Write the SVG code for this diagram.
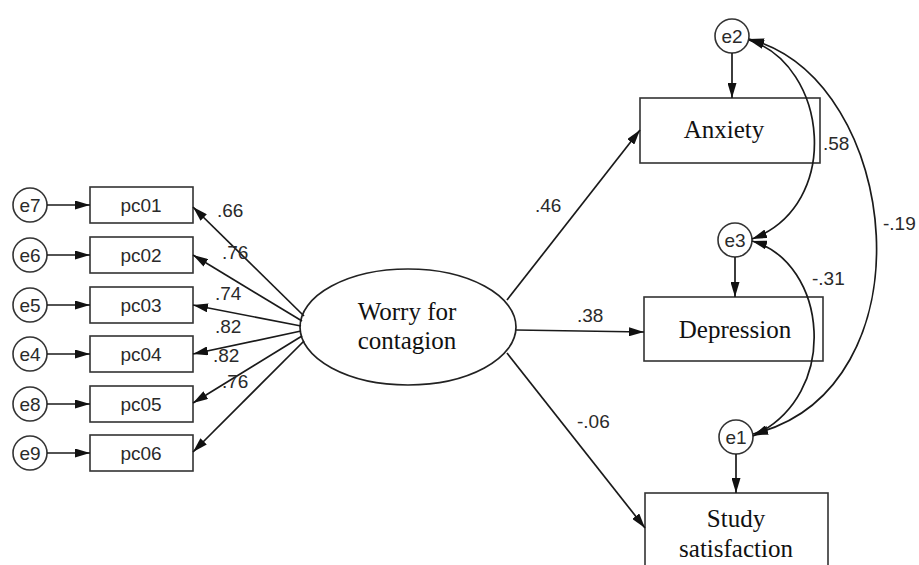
<svg xmlns="http://www.w3.org/2000/svg" width="919" height="565" viewBox="0 0 919 565">
<style>
.bg{fill:#fff}
.box{fill:none;stroke:#333;stroke-width:1.6}
.err{fill:#fff;stroke:#333;stroke-width:1.6}
.lat{fill:#fff;stroke:#222;stroke-width:1.7}
.c{fill:none;stroke:#1a1a1a;stroke-width:1.7}
.s{font-family:"Liberation Sans",Arial,sans-serif;font-size:19px;fill:#2a2a2a}
.n{font-family:"Liberation Serif","Times New Roman",serif;font-size:25px;fill:#111;text-anchor:middle}
.m{text-anchor:middle}
</style>
<defs>
<marker id="ah" viewBox="0 0 15 9" refX="15" refY="4.5" markerWidth="15" markerHeight="9" markerUnits="userSpaceOnUse" orient="auto-start-reverse">
<path d="M0,0 L15,4.5 L0,9 z" fill="#111"/>
</marker>
</defs>
<rect class="bg" x="0" y="0" width="919" height="565"/>

<g id="e7"><circle class="err" cx="30" cy="205" r="17"/><text class="s m" x="30" y="212">e7</text></g>
<g id="e6"><circle class="err" cx="30" cy="255" r="17"/><text class="s m" x="30" y="262">e6</text></g>
<g id="e5"><circle class="err" cx="30" cy="305" r="17"/><text class="s m" x="30" y="312">e5</text></g>
<g id="e4"><circle class="err" cx="30" cy="354" r="17"/><text class="s m" x="30" y="361">e4</text></g>
<g id="e8"><circle class="err" cx="30" cy="404" r="17"/><text class="s m" x="30" y="411">e8</text></g>
<g id="e9"><circle class="err" cx="30" cy="453" r="17"/><text class="s m" x="30" y="460">e9</text></g>

<g id="pc01"><rect class="box" x="90" y="187" width="103" height="36"/><text class="s m" x="141" y="212">pc01</text></g>
<g id="pc02"><rect class="box" x="90" y="237" width="103" height="36"/><text class="s m" x="141" y="262">pc02</text></g>
<g id="pc03"><rect class="box" x="90" y="287" width="103" height="36"/><text class="s m" x="141" y="312">pc03</text></g>
<g id="pc04"><rect class="box" x="90" y="336" width="103" height="36"/><text class="s m" x="141" y="361">pc04</text></g>
<g id="pc05"><rect class="box" x="90" y="386" width="103" height="36"/><text class="s m" x="141" y="411">pc05</text></g>
<g id="pc06"><rect class="box" x="90" y="435" width="103" height="36"/><text class="s m" x="141" y="460">pc06</text></g>

<g id="worry"><ellipse class="lat" cx="408" cy="327" rx="108" ry="58"/><text class="n" x="407" y="320">Worry for</text><text class="n" x="407" y="349">contagion</text></g>

<g id="e2"><circle class="err" cx="732" cy="36" r="17"/><text class="s m" x="732" y="43">e2</text></g>
<g id="anxiety"><rect class="box" x="640" y="98" width="180" height="65"/><text class="n" x="724" y="138">Anxiety</text></g>
<g id="e3"><circle class="err" cx="735" cy="240" r="17"/><text class="s m" x="735" y="247">e3</text></g>
<g id="depression"><rect class="box" x="644" y="297" width="179" height="64"/><text class="n" x="735" y="338">Depression</text></g>
<g id="e1"><circle class="err" cx="736" cy="437" r="17"/><text class="s m" x="736" y="444">e1</text></g>
<g id="study"><rect class="box" x="645" y="493" width="183" height="90"/><text class="n" x="736" y="527">Study</text><text class="n" x="736" y="557">satisfaction</text></g>

<g id="connectors">
<line class="c" x1="47" y1="205" x2="90" y2="205" marker-end="url(#ah)"/>
<line class="c" x1="47" y1="255" x2="90" y2="255" marker-end="url(#ah)"/>
<line class="c" x1="47" y1="305" x2="90" y2="305" marker-end="url(#ah)"/>
<line class="c" x1="47" y1="354" x2="90" y2="354" marker-end="url(#ah)"/>
<line class="c" x1="47" y1="404" x2="90" y2="404" marker-end="url(#ah)"/>
<line class="c" x1="47" y1="453" x2="90" y2="453" marker-end="url(#ah)"/>
<line class="c" x1="304" y1="316" x2="193" y2="207" marker-end="url(#ah)"/>
<line class="c" x1="302" y1="321" x2="193" y2="255" marker-end="url(#ah)"/>
<line class="c" x1="301" y1="326" x2="193" y2="305" marker-end="url(#ah)"/>
<line class="c" x1="301" y1="331" x2="193" y2="354" marker-end="url(#ah)"/>
<line class="c" x1="302" y1="336" x2="193" y2="403" marker-end="url(#ah)"/>
<line class="c" x1="304" y1="341" x2="193" y2="452" marker-end="url(#ah)"/>
<line class="c" x1="507" y1="300" x2="640" y2="130" marker-end="url(#ah)"/>
<line class="c" x1="516" y1="330" x2="644" y2="332" marker-end="url(#ah)"/>
<line class="c" x1="507" y1="353" x2="645" y2="528" marker-end="url(#ah)"/>
<line class="c" x1="732" y1="53" x2="732" y2="98" marker-end="url(#ah)"/>
<line class="c" x1="735" y1="257" x2="735" y2="297" marker-end="url(#ah)"/>
<line class="c" x1="736" y1="454" x2="736" y2="493" marker-end="url(#ah)"/>
<path class="c" d="M749,40 C828,65 843,205 752,239" marker-start="url(#ah)" marker-end="url(#ah)"/>
<path class="c" d="M749,39 C903,80 933,390 753,434" marker-start="url(#ah)" marker-end="url(#ah)"/>
<path class="c" d="M752,241 C827,262 842,395 753,436" marker-start="url(#ah)" marker-end="url(#ah)"/>
</g>

<g id="labels">
<text class="s" x="217" y="217">.66</text>
<text class="s" x="222" y="259">.76</text>
<text class="s" x="215" y="300">.74</text>
<text class="s" x="215" y="333">.82</text>
<text class="s" x="213" y="362">.82</text>
<text class="s" x="222" y="388">.76</text>
<text class="s" x="535" y="212">.46</text>
<text class="s" x="577" y="322">.38</text>
<text class="s" x="577" y="428">-.06</text>
<text class="s" x="823" y="150">.58</text>
<text class="s" x="883" y="230">-.19</text>
<text class="s" x="812" y="285">-.31</text>
</g>
</svg>
